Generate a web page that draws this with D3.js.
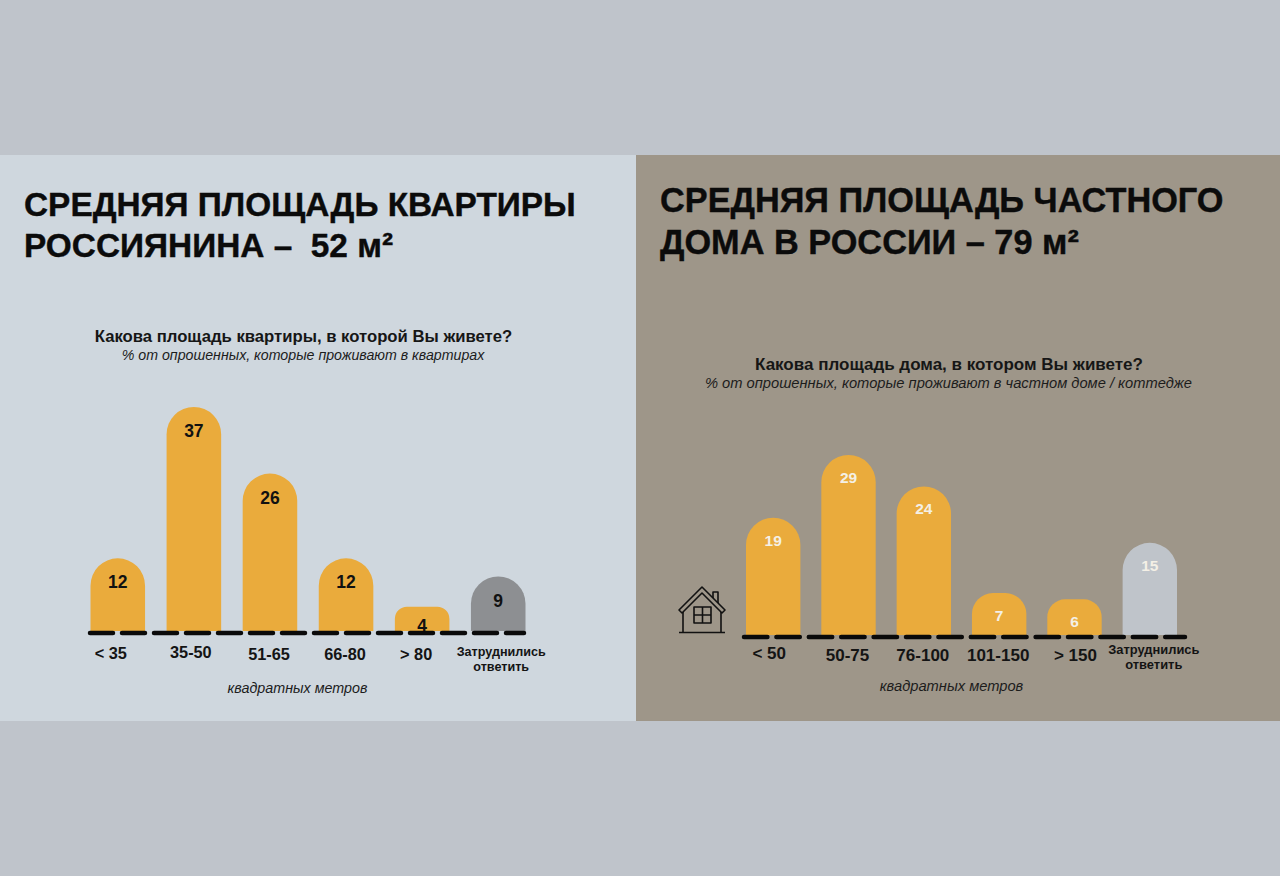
<!DOCTYPE html>
<html><head><meta charset="utf-8">
<script src="https://cdn.jsdelivr.net/npm/d3@7/dist/d3.min.js"></script>
<style>html,body{margin:0;padding:0;background:#bfc4cb}svg{display:block}text{font-family:"Liberation Sans",Arial,sans-serif;white-space:pre}</style>
</head><body><svg id="c" width="1280" height="876"></svg>
<script>
const flatCategories = ["< 35","35-50","51-65","66-80","> 80","Затруднились|ответить"];
const flatValues = [12,37,26,12,4,9];
const houseCategories = ["< 50","50-75","76-100","101-150","> 150","Затруднились|ответить"];
const houseValues = [19,29,24,7,6,15];

const svg = d3.select("#c");
svg.append("rect").attr("width",1280).attr("height",876).attr("fill","#bfc4cb");
svg.append("rect").attr("x",0).attr("y",155).attr("width",636).attr("height",566).attr("fill","#cfd7de");
svg.append("rect").attr("x",636).attr("y",155).attr("width",644).attr("height",566).attr("fill","#9e9689");

function panel(o){
  const g = svg.append("g");
  o.title.forEach((t,i)=>g.append("text").attr("x",o.titleX).attr("y",o.titleY[i]).attr("font-size",o.titleSize).attr("font-weight",700).attr("fill","#0b0b0b").attr("stroke","#0b0b0b").attr("stroke-width",0.4).text(t));
  g.append("text").attr("x",o.subX).attr("y",o.subY).attr("text-anchor","middle").attr("font-size",o.qSize).attr("font-weight",700).attr("fill","#161616").text(o.question);
  g.append("text").attr("x",o.subX-.5).attr("y",o.subY+18).attr("text-anchor","middle").attr("font-size",o.noteSize).attr("font-style","italic").attr("fill","#1c1c1c").text(o.note);

  const x = d3.scaleBand().domain(o.cats).range(o.xRange).paddingInner(o.pad).paddingOuter(0);
  const y = d3.scaleLinear().domain([0,o.maxV]).range(o.yRange);
  const bw = x.bandwidth();
  const floor = o.base-2;
  const shape = (c,v)=>{
    const x0=x(c), h=floor-y(v), r=Math.min(bw/2,h*0.5), t=y(v);
    const p=d3.path();
    p.moveTo(x0,floor); p.lineTo(x0,t+r);
    p.arcTo(x0,t,x0+r,t,r); p.lineTo(x0+bw-r,t);
    p.arcTo(x0+bw,t,x0+bw,t+r,r); p.lineTo(x0+bw,floor); p.closePath();
    return p.toString();
  };
  g.selectAll("path.bar").data(o.cats).join("path").attr("class","bar")
    .attr("d",(c,i)=>shape(c,o.vals[i]))
    .attr("fill",(c,i)=>i===o.cats.length-1?o.otherFill:"#eaab3c");
  g.selectAll("text.v").data(o.cats).join("text").attr("class","v")
    .attr("x",c=>x(c)+bw/2).attr("y",(c,i)=>y(o.vals[i])+Math.min(o.labelDy,(o.base-y(o.vals[i]))*0.5+6)+6)
    .attr("text-anchor","middle").attr("font-size",o.valueSize).attr("font-weight",700).attr("fill",o.valueFill)
    .text((c,i)=>o.vals[i]);
  g.append("line").attr("x1",o.lineX[0]+2).attr("x2",o.lineX[1]-2).attr("y1",o.base).attr("y2",o.base)
    .attr("stroke","#0a0a0a").attr("stroke-width",4.5).attr("stroke-linecap","round").attr("stroke-dasharray",o.dash);
  o.cats.forEach((c,i)=>{
    const parts=c.split("|"), cx=x(c)+bw/2+o.nudgeX[i];
    if(parts.length===1){
      g.append("text").attr("x",cx).attr("y",o.tickY+o.nudgeY[i]).attr("text-anchor","middle").attr("font-size",o.tickSize).attr("font-weight",700).attr("fill","#141414").text(c);
    } else {
      parts.forEach((s,k)=>g.append("text").attr("x",cx).attr("y",o.tickY+o.nudgeY[i]+k*15).attr("text-anchor","middle").attr("font-size",o.otherSize).attr("font-weight",700).attr("fill","#141414").text(s));
    }
  });
  g.append("text").attr("x",o.unitX).attr("y",o.unitY).attr("text-anchor","middle").attr("font-size",o.unitSize).attr("font-style","italic").attr("fill","#1c1c1c").text("квадратных метров");
}

panel({cats:flatCategories,vals:flatValues,maxV:37,title:["СРЕДНЯЯ ПЛОЩАДЬ КВАРТИРЫ","РОССИЯНИНА –  52 м²"],titleX:24,titleY:[216,257],titleSize:33.4,
  question:"Какова площадь квартиры, в которой Вы живете?",note:"% от опрошенных, которые проживают в квартирах",subX:303.5,subY:342,qSize:16.7,noteSize:14.2,
  xRange:[90.5,525.5],pad:0.283,base:633,yRange:[631,407],lineX:[88,526],dash:"23 9",labelDy:24,valueSize:17.5,valueFill:"#111",otherFill:"#8d8f92",
  nudgeX:[-7,-3,-1,-1,-6,3],nudgeY:[0,-1,1,1,1,-3],tickY:659,tickSize:16.3,otherSize:12.6,unitX:297.5,unitY:693,unitSize:14.3});
panel({cats:houseCategories,vals:houseValues,maxV:29,title:["СРЕДНЯЯ ПЛОЩАДЬ ЧАСТНОГО","ДОМА В РОССИИ – 79 м²"],titleX:660,titleY:[212,254],titleSize:34.3,
  question:"Какова площадь дома, в котором Вы живете?",note:"% от опрошенных, которые проживают в частном доме / коттедже",subX:949,subY:370,qSize:17,noteSize:14.7,
  xRange:[746,1177],pad:0.278,base:637,yRange:[637,455],lineX:[742,1187],dash:"23.4 9",labelDy:22,valueSize:15.5,valueFill:"#f4f0e6",otherFill:"#bfc4ca",
  nudgeX:[-4,-1,-1,-1,1,4],nudgeY:[0,2,2,2,2,-5],tickY:659,tickSize:17,otherSize:12.9,unitX:951.5,unitY:691,unitSize:14.7});

// house icon
const h = svg.append("g").attr("fill","none").attr("stroke","#111").attr("stroke-width",1.6).attr("stroke-linejoin","round").attr("transform","translate(702,610)");
h.append("path").attr("d","M-23,0 L0,-23 L23,0 L20,3 L0,-17 L-20,3 Z");
h.append("path").attr("d","M11,-12 V-18 H16 V-7");
h.append("path").attr("d","M-19,2 V22 M19,2 V22 M-23,22.5 H23");
h.append("rect").attr("x",-8).attr("y",-3).attr("width",17).attr("height",16);
h.append("path").attr("d","M0.5,-3 V13 M-8,5 H9");
</script></body></html>
